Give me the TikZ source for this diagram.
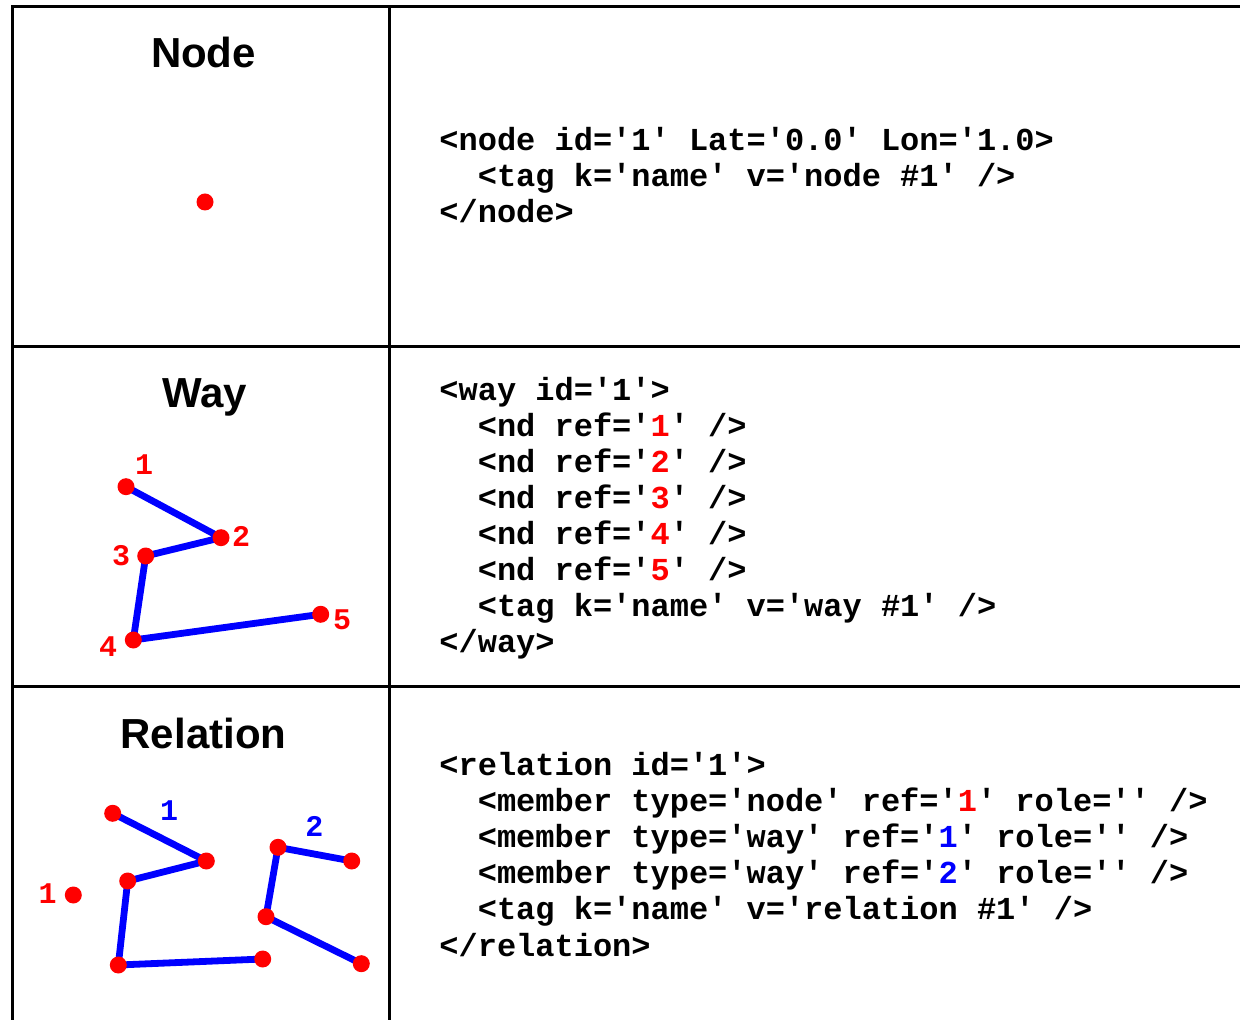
\documentclass[tikz,border=0pt]{standalone}
\usepackage{fontspec}
\setmainfont{Liberation Sans}
\setmonofont{Liberation Mono}
\definecolor{osmred}{RGB}{255,0,0}
\definecolor{osmblue}{RGB}{0,0,255}
\begin{document}
\begin{tikzpicture}[x=0.5pt,y=-0.5pt,
  frame/.style={line width=1.7pt, black},
  title/.style={font=\fontsize{21}{24}\selectfont\bfseries, anchor=base, inner sep=0pt},
  code/.style={font=\ttfamily\bfseries\fontsize{16}{18}\selectfont, anchor=base west, inner sep=0pt},
  lbl/.style={font=\ttfamily\bfseries\fontsize{15}{17}\selectfont, inner sep=0pt},
  dot/.style={circle, fill=osmred, inner sep=0pt, minimum size=8.5pt},
  wayline/.style={osmblue, line width=3.4pt, line join=round}]
\useasboundingbox (0,0) rectangle (1240,1020);
\fill[white] (0,0) rectangle (1240,1020);

% table frame
\draw[frame] (1240,6.7) -- (12.7,6.7) -- (12.7,1020);
\draw[frame] (389.3,6.7) -- (389.3,1020);
\draw[frame] (12.7,346.7) -- (1240,346.7);
\draw[frame] (12.7,686.7) -- (1240,686.7);

% titles
\node[title] (tNode) at (203.5,68) {Node};
\node[title] (tWay) at (204.5,408) {Way};
\node[title] (tRel) at (203.5,748) {Relation};

% ---- Node ----
\node[dot] (nd) at (205,202) {};
\node[code] (n0) at (439,150.5) {<node id='1' Lat='0.0' Lon='1.0>};
\node[code] (n1) at (439,186.5) {\phantom{xx}<tag k='name' v='node \#1' />};
\node[code] (n2) at (439,222.5) {</node>};

% ---- Way ----
\coordinate (w1) at (126,486.7);
\coordinate (w2) at (221,537.7);
\coordinate (w3) at (145.7,556);
\coordinate (w4) at (133.3,640);
\coordinate (w5) at (320.7,614.3);
\draw[wayline] (w1) -- (w2) -- (w3) -- (w4) -- (w5);
\foreach \p in {w1,w2,w3,w4,w5} \node[dot] (d\p) at (\p) {};
\node[lbl, text=osmred] (lw1) at (144,465) {1};
\node[lbl, text=osmred] (lw2) at (241,536.7) {2};
\node[lbl, text=osmred] (lw3) at (121,556) {3};
\node[lbl, text=osmred] (lw4) at (108,647) {4};
\node[lbl, text=osmred] (lw5) at (342,620) {5};

\node[code] (c0) at (439,400.5) {<way id='1'>};
\node[code] (c1) at (439,436.5) {\phantom{xx}<nd ref='\textcolor{osmred}{1}' />};
\node[code] (c2) at (439,472.5) {\phantom{xx}<nd ref='\textcolor{osmred}{2}' />};
\node[code] (c3) at (439,508.5) {\phantom{xx}<nd ref='\textcolor{osmred}{3}' />};
\node[code] (c4) at (439,544.5) {\phantom{xx}<nd ref='\textcolor{osmred}{4}' />};
\node[code] (c5) at (439,580.5) {\phantom{xx}<nd ref='\textcolor{osmred}{5}' />};
\node[code] (c6) at (439,616.5) {\phantom{xx}<tag k='name' v='way \#1' />};
\node[code] (c7) at (439,652.5) {</way>};

% ---- Relation ----
\coordinate (r1) at (112.7,813.3);
\coordinate (r2) at (206.3,861);
\coordinate (r3) at (127.7,881);
\coordinate (r4) at (118.3,965);
\coordinate (r5) at (262.7,959);
\coordinate (s1) at (351.7,861);
\coordinate (s2) at (278,847.3);
\coordinate (s3) at (266,916.7);
\coordinate (s4) at (361.3,963.7);
\draw[wayline] (r1) -- (r2) -- (r3) -- (r4) -- (r5);
\draw[wayline] (s1) -- (s2) -- (s3) -- (s4);
\foreach \p in {r1,r2,r3,r4,r5,s1,s2,s3,s4} \node[dot] (d\p) at (\p) {};
\node[dot] (rp) at (73.3,895) {};
\node[lbl, text=osmred] (lrp) at (47.7,893.3) {1};
\node[lbl, text=osmblue] (lr1) at (169,810.7) {1};
\node[lbl, text=osmblue] (lr2) at (314.3,826.7) {2};

\node[code] (e0) at (439,775.5) {<relation id='1'>};
\node[code] (e1) at (439,811.6) {\phantom{xx}<member type='node' ref='\textcolor{osmred}{1}' role='' />};
\node[code] (e2) at (439,847.7) {\phantom{xx}<member type='way' ref='\textcolor{osmblue}{1}' role='' />};
\node[code] (e3) at (439,883.8) {\phantom{xx}<member type='way' ref='\textcolor{osmblue}{2}' role='' />};
\node[code] (e4) at (439,919.9) {\phantom{xx}<tag k='name' v='relation \#1' />};
\node[code] (e5) at (439,956) {</relation>};
\end{tikzpicture}
\end{document}
